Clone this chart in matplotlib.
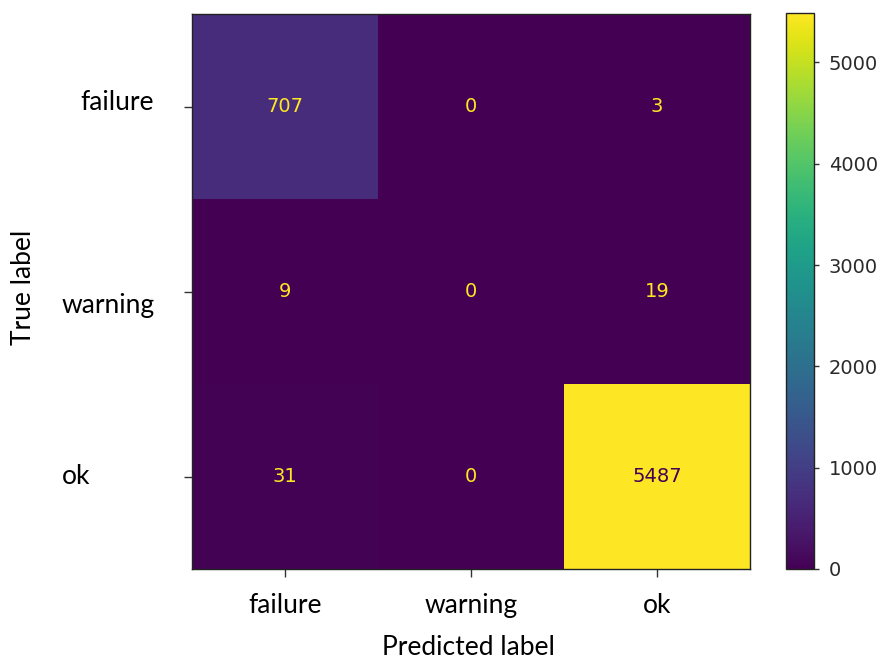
import numpy as np
import matplotlib
matplotlib.use("Agg")
import matplotlib.pyplot as plt

# Confusion matrix: rows = true label, columns = predicted label
classes = ["failure", "warning", "ok"]
counts = np.array([
    [707, 0, 3],
    [9, 0, 19],
    [31, 0, 5487],
])
cbar_ticks = [0, 1000, 2000, 3000, 4000, 5000]

W, H = 883, 659
fig = plt.figure(figsize=(W / 100, H / 100), dpi=100)

def px_box(x0, y0, x1, y1):
    return [x0 / W, 1 - y1 / H, (x1 - x0) / W, (y1 - y0) / H]

ax = fig.add_axes(px_box(192, 14, 750, 569))
cax = fig.add_axes(px_box(786, 13, 814, 569))

cmap = plt.get_cmap("viridis")
im = ax.imshow(counts, cmap=cmap, interpolation="nearest", aspect="auto")

# cell annotations, text colour flips on the bright cells
thresh = (counts.max() + counts.min()) / 2.0
for i in range(counts.shape[0]):
    for j in range(counts.shape[1]):
        color = cmap(0.0) if counts[i, j] > thresh else cmap(1.0)
        ax.text(j, i, f"{counts[i, j]}", ha="center", va="center",
                color=color, fontsize=14, family="DejaVu Sans")

label_font = dict(family=["Lato", "DejaVu Sans"], fontsize=19, color="black")

ax.set_xticks(range(len(classes)))
ax.set_xticklabels(classes, **label_font)
ax.set_yticks(range(len(classes)))
ax.set_yticklabels([])
ax.tick_params(axis="both", length=6, width=1, color="#333333")
ax.tick_params(axis="x", pad=11)

# y tick labels placed individually beside their ticks
ytick_place = {
    "failure": dict(dx=-38, dy=-3, ha="right"),
    "warning": dict(dx=-130, dy=-21, ha="left"),
    "ok": dict(dx=-130, dy=-8, ha="left"),
}
for i, name in enumerate(classes):
    p = ytick_place[name]
    ax.annotate(name, xy=(0, i), xycoords=ax.get_yaxis_transform(),
                xytext=(p["dx"], p["dy"]), textcoords="offset pixels",
                ha=p["ha"], va="baseline", annotation_clip=False, **label_font)

for s in ax.spines.values():
    s.set_color("#222222")
    s.set_linewidth(1.0)

fig.text(468 / W, 1 - 655 / H, "Predicted label", ha="center", va="baseline",
         **label_font)
fig.text(24 / W, 1 - 287 / H, "True label", ha="center", va="center",
         rotation=90, **label_font)

cb = fig.colorbar(im, cax=cax)
cb.set_ticks(cbar_ticks)
cb.ax.tick_params(labelsize=14, length=3.6, width=1, color="#333333",
                  labelcolor="#2a2a2a", pad=7)
cb.outline.set_edgecolor("#222222")
cb.outline.set_linewidth(1.0)

fig.savefig("out.png", dpi=100)
